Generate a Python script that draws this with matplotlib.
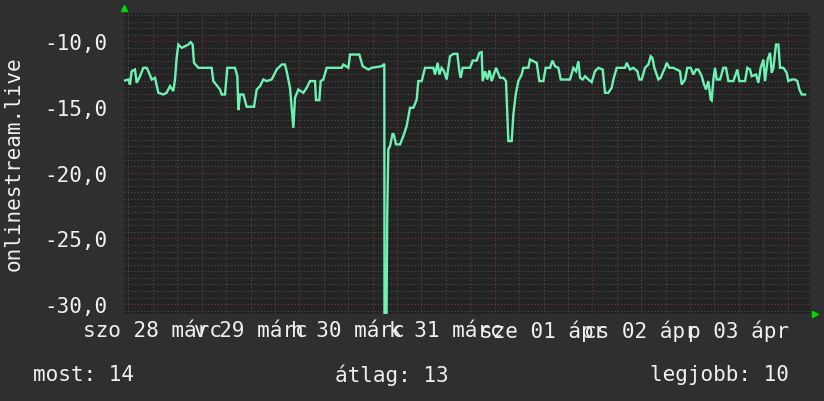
import numpy as np
import matplotlib
matplotlib.use("Agg")
import matplotlib.pyplot as plt
from matplotlib.transforms import blended_transform_factory

# ---- data (hours since window start, value) ----
hours = [0.25, 1.06, 1.47, 1.88, 2.70, 3.11, 3.93, 4.75, 5.57, 5.98, 6.80, 7.62, 8.44, 9.67, 10.48,
         11.30, 12.12, 12.53, 12.94, 13.35, 14.17, 14.99, 15.81, 16.38, 16.87, 17.20, 18.27, 21.54,
         21.95, 23.59, 24.00, 24.82, 25.39, 27.28, 27.85, 28.10, 28.51, 29.33, 30.14, 31.95, 32.60,
         33.42, 34.24, 35.06, 36.29, 37.52, 38.74, 39.56, 39.97, 40.79, 41.61, 42.02, 42.84, 44.07,
         44.89, 45.71, 46.94, 47.18, 48.00, 48.33, 48.98, 49.80, 53.49, 53.90, 55.13, 55.54, 57.83,
         58.65, 60.04, 60.86, 63.32, 63.73, 63.97,
         64.01, 64.51, 64.68, 64.95, 65.37, 66.03, 66.35, 66.84, 67.82,
         68.64, 69.46, 70.28, 71.10, 71.92, 72.33, 73.15, 73.97, 76.02, 76.43, 77.08, 77.49, 78.06,
         78.64, 79.29, 80.11, 80.93, 81.91, 82.41, 82.73, 83.22, 85.03, 85.68, 86.66, 87.32, 87.89,
         88.14, 88.71, 89.29, 89.78, 90.35, 91.42, 92.40, 93.22, 93.87, 94.45, 95.27, 95.68, 96.25,
         96.90, 97.72, 98.13, 99.36, 99.77, 100.59, 101.41, 102.06, 103.05, 103.62, 104.69, 105.26,
         105.91, 106.73, 107.31, 109.60, 110.42, 111.08, 111.65, 112.06, 112.71, 113.29, 114.10,
         114.92, 115.74, 116.56, 117.63, 118.20, 119.02, 119.84, 120.25, 121.07, 123.12, 123.53,
         124.34, 125.16, 126.15, 126.64, 127.21, 128.03, 128.85, 129.42, 129.83, 130.32, 131.31,
         131.88, 132.54, 132.95, 133.36, 134.01, 134.99, 135.81, 136.63, 137.04, 137.86, 138.43,
         139.25, 139.91, 140.56, 141.14, 141.96, 142.53, 143.02, 143.59, 144.17, 144.41, 144.82,
         145.23, 145.64, 146.46, 147.28, 147.93, 148.51, 149.74, 150.72, 151.21, 152.61, 153.18,
         153.83, 154.24, 155.31, 155.88, 156.45, 157.11, 157.52, 158.17, 158.75, 159.16, 159.57,
         160.22, 160.80, 161.21, 162.03, 162.84, 163.25, 164.07, 164.89, 165.46, 165.96, 166.53,
         167.35]
values = [-12.98, -12.91, -13.29, -12.28, -12.15, -13.16, -12.66, -12.02, -12.02, -12.28, -12.91,
          -12.78, -13.92, -14.05, -13.92, -13.41, -13.79, -12.91, -11.26, -10.25, -10.50, -10.38,
          -10.25, -10.07, -10.25, -11.64, -12.02, -12.02, -13.03, -13.67, -14.05, -14.05, -12.02,
          -12.02, -12.66, -15.24, -14.05, -14.05, -14.98, -14.98, -13.67, -13.41, -12.91, -13.03,
          -12.91, -12.15, -11.77, -11.77, -12.28, -13.54, -16.58, -14.30, -13.67, -13.92, -13.54,
          -13.03, -13.03, -14.48, -14.48, -13.03, -12.91, -12.02, -12.02, -11.77, -12.02, -11.01,
          -11.01, -11.90, -12.15, -12.02, -11.90, -11.77, -11.77,
          -30.70, -30.70, -23.20, -18.22, -17.97, -17.00, -17.16, -17.84, -17.85,
          -17.21, -16.45, -15.06, -15.06, -14.43, -13.03, -13.03, -12.02, -12.02, -12.53, -11.64,
          -12.53, -12.02, -12.28, -12.91, -11.14, -10.96, -10.96, -12.28, -12.78, -12.02, -12.02,
          -11.47, -11.47, -10.88, -10.83, -13.03, -12.28, -12.91, -12.22, -13.03, -12.02, -12.78,
          -12.78, -13.03, -17.59, -17.59, -15.57, -14.05, -13.03, -12.53, -12.02, -12.02, -11.39,
          -11.52, -11.64, -13.03, -13.03, -12.02, -12.02, -11.47, -11.90, -12.02, -12.91, -12.91,
          -12.02, -12.28, -11.52, -12.78, -12.91, -12.66, -12.91, -13.11, -12.28, -12.02, -12.15,
          -13.92, -13.92, -13.54, -12.91, -12.02, -12.02, -11.64, -12.15, -12.02, -12.28, -12.91,
          -12.91, -12.02, -11.77, -11.14, -11.26, -12.02, -12.91, -12.78, -12.28, -12.02, -11.64,
          -12.02, -12.02, -12.15, -12.28, -13.29, -12.91, -12.02, -12.02, -12.53, -12.15, -12.15,
          -12.66, -13.29, -13.67, -13.03, -14.43, -14.50, -12.91, -12.02, -12.91, -12.91, -12.02,
          -12.02, -13.03, -13.03, -12.15, -13.03, -13.03, -12.02, -12.15, -12.66, -12.53, -13.16,
          -12.02, -11.39, -13.03, -11.39, -10.88, -12.40, -12.02, -10.25, -10.25, -12.02, -12.02,
          -12.40, -13.03, -12.91, -12.91, -13.03, -13.67, -14.05, -14.05]

day_labels = ["szo 28 márc", "v 29 márc", "h 30 márc", "k 31 márc", "sze 01 ápr", "cs 02 ápr", "p 03 ápr"]
first_midnight = 19.09   # hours from window start to first midnight
window_hours = 168.57
y_ticks = [-10, -15, -20, -25, -30]
y_min, y_max = -30.75, -7.85
series_name = "onlinestream.live"
legend_items = [("most", 14), ("átlag", 13), ("legjobb", 10)]

# ---- style ----
W, H = 824, 402
BG = "#2f2f2f"
PLOT_BG = "#232323"
TXT = "#f0f0f0"
LINE = "#6ef2b4"
MINOR = "#4e4e4e"
MAJOR = "#6e3838"
FONT = "DejaVu Sans Mono"
FS = 15.1

fig = plt.figure(figsize=(W / 100, H / 100), dpi=100, facecolor=BG)
L, R, T, B = 124, 810, 14, 315
ax = fig.add_axes([L / W, 1 - B / H, (R - L) / W, (B - T) / H])
ax.set_facecolor(PLOT_BG)
ax.set_xlim(0, window_hours)
ax.set_ylim(y_min, y_max)

# grid
for yv in np.arange(-30.5, -7.8, 0.5):
    major = abs(yv - round(yv / 5) * 5) < 1e-6
    ax.axhline(yv, color=MAJOR if major else MINOR, lw=0.8, ls=(0, (1, 2)), zorder=1)
for k in range(-4, 30):
    xv = first_midnight + 6 * k
    if 0 < xv < window_hours:
        major = k % 4 == 0
        ax.axvline(xv, color=MAJOR if major else MINOR, lw=0.8, ls=(0, (1, 2)), zorder=1)

ax.plot(hours, values, color=LINE, lw=1.7, zorder=3, solid_joinstyle="miter")

for s in ax.spines.values():
    s.set_visible(False)
ax.set_yticks(y_ticks)
ax.set_yticklabels([f"{v:.1f}".replace(".", ",") for v in y_ticks], fontfamily=FONT,
                   fontsize=FS, color=TXT)
ax.tick_params(axis="y", length=0, pad=12)
ax.set_xticks([])

# x labels centred at noon of each day
tr = blended_transform_factory(ax.transData, fig.transFigure)
for i, lab in enumerate(day_labels):
    xc = first_midnight - 12 + 24 * i
    ax.text(xc, 1 - 331 / H, lab, transform=tr, ha="center", va="center",
            fontfamily=FONT, fontsize=FS, color=TXT, clip_on=False)

# y-axis title
fig.text(14 / W, 1 - 164 / H, series_name, rotation=90, ha="center", va="center",
         fontfamily=FONT, fontsize=FS, color=TXT)

# legend line
legend_x = [33, 335, 650]
for (name, val), lx in zip(legend_items, legend_x):
    fig.text(lx / W, 1 - 375 / H, f"{name}: {val}", ha="left", va="center",
             fontfamily=FONT, fontsize=FS, color=TXT)

# green axis arrows
ax.plot([0], [1.015], marker="^", color="#00d800", ms=5, transform=ax.transAxes, clip_on=False)
ax.plot([1.008], [0], marker=">", color="#00d800", ms=5, transform=ax.transAxes, clip_on=False)

fig.savefig("out.png", dpi=100, facecolor=BG)
